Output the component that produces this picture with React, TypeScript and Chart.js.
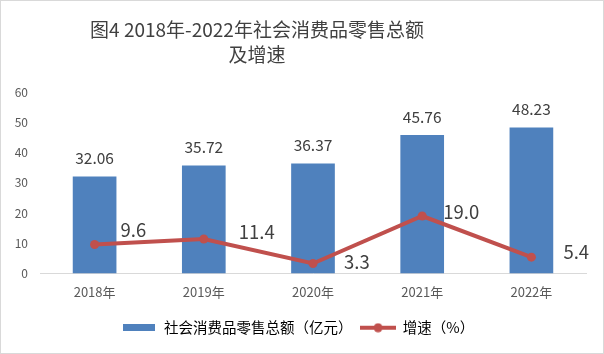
import React, { useEffect, useRef } from "react";
import { Chart, registerables } from "chart.js";

Chart.register(...registerables);

const categories = ["2018年", "2019年", "2020年", "2021年", "2022年"];
const salesValues = [32.06, 35.72, 36.37, 45.76, 48.23];
const growthValues = [9.6, 11.4, 3.3, 19.0, 5.4];
const growthLabels = ["9.6", "11.4", "3.3", "19.0", "5.4"];
const salesLabels = ["32.06", "35.72", "36.37", "45.76", "48.23"];
const titleLines = ["图4 2018年-2022年社会消费品零售总额", "及增速"];
const seriesNames = ["社会消费品零售总额（亿元）", "增速（%）"];

const FONT = '"Noto Sans CJK SC", "Noto Sans", sans-serif';
const BLUE = "#4f81bd";
const RED = "#c0504d";

// label nudges (relative to each line point), as placed in the original
const growthLabelNudge: [number, number][] = [
  [26, -14],
  [35, -7],
  [31, -2],
  [21, -4],
  [32, -5],
];

export default function App() {
  const ref = useRef<HTMLCanvasElement | null>(null);

  useEffect(() => {
    const canvas = ref.current;
    if (!canvas) return;

    const barIcon = document.createElement("canvas");
    barIcon.width = 32;
    barIcon.height = 7;
    {
      const c = barIcon.getContext("2d")!;
      c.fillStyle = BLUE;
      c.fillRect(0, 0, 32, 7);
    }
    const lineIcon = document.createElement("canvas");
    lineIcon.width = 36;
    lineIcon.height = 10;
    {
      const c = lineIcon.getContext("2d")!;
      c.strokeStyle = RED;
      c.lineWidth = 4;
      c.beginPath();
      c.moveTo(0, 5);
      c.lineTo(36, 5);
      c.stroke();
      c.fillStyle = RED;
      c.beginPath();
      c.arc(18, 5, 4.5, 0, Math.PI * 2);
      c.fill();
    }

    const labelPlugin = {
      id: "labelsAndTitle",
      afterDatasetsDraw(chart: any) {
        const ctx = chart.ctx;
        ctx.save();
        const barMeta = chart.getDatasetMeta(0);
        ctx.fillStyle = "#404040";
        ctx.font = `15.5px ${FONT}`;
        ctx.textAlign = "center";
        ctx.textBaseline = "middle";
        barMeta.data.forEach((el: any, i: number) => {
          ctx.fillText(salesLabels[i], el.x, el.y - 18);
        });
        const lineMeta = chart.getDatasetMeta(1);
        ctx.font = `18.5px ${FONT}`;
        ctx.textAlign = "left";
        lineMeta.data.forEach((el: any, i: number) => {
          const [dx, dy] = growthLabelNudge[i] || [28, -8];
          ctx.fillText(growthLabels[i], el.x + dx, el.y + dy);
        });
        ctx.restore();
      },
      afterDraw(chart: any) {
        const ctx = chart.ctx;
        ctx.save();
        ctx.fillStyle = "#404040";
        ctx.font = `19px ${FONT}`;
        ctx.textAlign = "center";
        ctx.textBaseline = "middle";
        ctx.fillText(titleLines[0], 256, 29);
        ctx.fillText(titleLines[1], 256, 54);
        ctx.restore();
      },
    };

    const chart = new Chart(canvas, {
      type: "bar",
      data: {
        labels: categories,
        datasets: [
          {
            type: "bar",
            label: seriesNames[0],
            data: salesValues,
            backgroundColor: BLUE,
            borderWidth: 0,
            categoryPercentage: 1,
            barPercentage: 0.4,
            order: 2,
          },
          {
            type: "line",
            label: seriesNames[1],
            data: growthValues,
            borderColor: RED,
            backgroundColor: RED,
            borderWidth: 4,
            pointRadius: 4.5,
            pointBackgroundColor: RED,
            pointBorderColor: RED,
            pointBorderWidth: 0,
            tension: 0,
            order: 1,
          },
        ],
      },
      options: {
        responsive: false,
        animation: false,
        devicePixelRatio: 1,
        layout: { padding: { top: 91, right: 17, left: 9, bottom: 8 } },
        plugins: {
          title: { display: false },
          tooltip: { enabled: false },
          legend: {
            display: true,
            position: "bottom",
            labels: {
              usePointStyle: true,
              pointStyleWidth: 35,
              padding: 8,
              color: "#595959",
              font: { family: FONT, size: 14.5 },
              generateLabels: () => [
                {
                  text: seriesNames[0],
                  pointStyle: barIcon,
                  fillStyle: BLUE,
                  strokeStyle: BLUE,
                  lineWidth: 0,
                  hidden: false,
                  datasetIndex: 0,
                } as any,
                {
                  text: seriesNames[1],
                  pointStyle: lineIcon,
                  fillStyle: RED,
                  strokeStyle: RED,
                  lineWidth: 0,
                  hidden: false,
                  datasetIndex: 1,
                } as any,
              ],
            },
          },
        },
        scales: {
          x: {
            grid: { display: false, drawTicks: false },
            border: { display: true, color: "#d9d9d9", width: 1 },
            ticks: {
              color: "#595959",
              padding: 11,
              font: { family: FONT, size: 13 },
            },
            afterFit: (scale: any) => {
              scale.height = 39;
            },
          },
          y: {
            min: 0,
            max: 60,
            grid: { display: false, drawTicks: false },
            border: { display: false },
            ticks: {
              stepSize: 10,
              color: "#595959",
              padding: 12,
              font: { family: FONT, size: 12 },
            },
            afterFit: (scale: any) => {
              scale.width = 30;
            },
          },
        },
      },
      plugins: [labelPlugin],
    } as any);

    return () => chart.destroy();
  }, []);

  return (
    <div
      style={{
        position: "absolute",
        left: 0,
        top: 0,
        width: 604,
        height: 354,
        boxSizing: "border-box",
        border: "1px solid #d9d9d9",
        background: "#fff",
      }}
    >
      <canvas ref={ref} width={602} height={352} style={{ display: "block", width: 602, height: 352 }} />
    </div>
  );
}
